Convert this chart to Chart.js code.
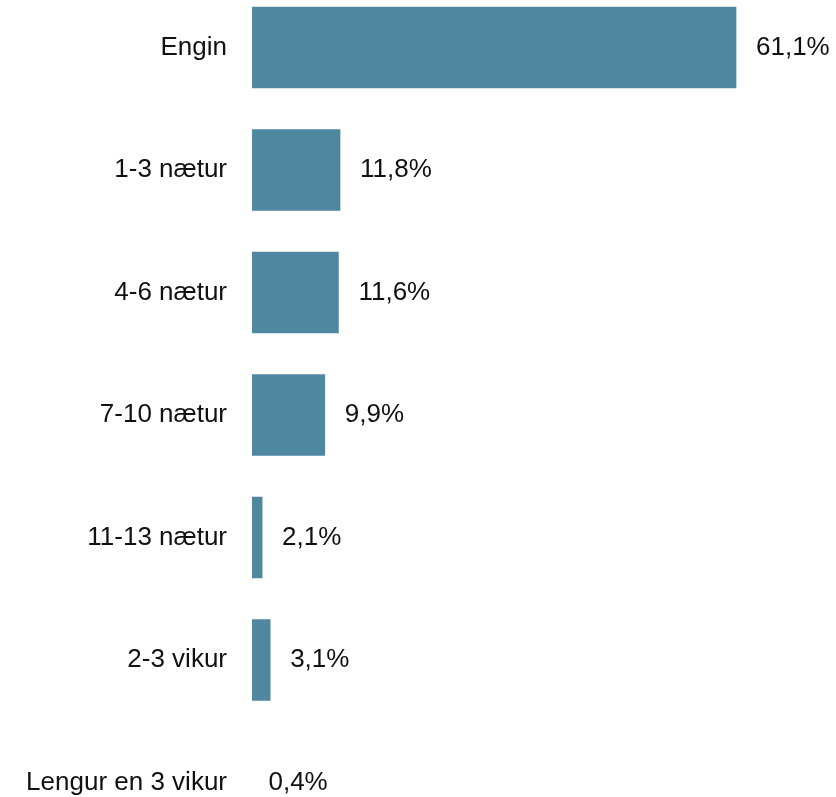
<!DOCTYPE html>
<html>
<head>
<meta charset="utf-8">
<script src="https://cdn.jsdelivr.net/npm/chart.js@4.4.1/dist/chart.umd.min.js"></script>
<style>
    body { margin: 0; background: #fff; }
    canvas { display: block; }
</style>
</head>
<body>
<canvas id="nights_chart" width="836" height="797"></canvas>
<script>
// categories and values (percent)
var categories = ['Engin', '1-3 nætur', '4-6 nætur', '7-10 nætur', '11-13 nætur', '2-3 vikur', 'Lengur en 3 vikur'];
var shares = [61.1, 11.8, 11.6, 9.9, 2.1, 3.1, 0.4];

var fontFamily = '"Liberation Sans", Arial, sans-serif';

// value labels to the right of each bar
var valueLabels = {
    id: 'valueLabels',
    afterDatasetsDraw: function(chart) {
        var ctx = chart.ctx;
        var meta = chart.getDatasetMeta(0);
        ctx.save();
        ctx.font = '26px ' + fontFamily;
        ctx.fillStyle = '#111';
        ctx.textAlign = 'left';
        ctx.textBaseline = 'middle';
        meta.data.forEach(function(bar, i) {
            var txt = shares[i].toFixed(1).replace('.', ',') + '%';
            ctx.fillText(txt, bar.x + 20, bar.y);
        });
        ctx.restore();
    }
};

var ctx = document.getElementById('nights_chart').getContext('2d');
var myChart = new Chart(ctx, {
    type: 'bar',
    data: {
        labels: categories,
        datasets: [{
            data: shares,
            backgroundColor: '#4f87a0',
            barThickness: 81,
            clip: { left: 0, top: false, right: false, bottom: false }
        }]
    },
    options: {
        indexAxis: 'y',
        responsive: false,
        animation: false,
        devicePixelRatio: 1,
        layout: { padding: { top: 47.5, bottom: 14.5, left: 0, right: 0 } },
        plugins: {
            legend: { display: false },
            tooltip: { enabled: false }
        },
        scales: {
            x: {
                display: false,
                min: 0.84,
                max: 73.55
            },
            y: {
                offset: false,
                grid: { display: false, drawTicks: false },
                border: { display: false },
                ticks: {
                    padding: 25,
                    color: '#111',
                    font: { family: fontFamily, size: 26 }
                },
                afterFit: function(scale) {
                    scale.width = 252;
                    scale.paddingTop = 0;
                    scale.paddingBottom = 0;
                }
            }
        }
    },
    plugins: [valueLabels]
});
</script>
</body>
</html>
